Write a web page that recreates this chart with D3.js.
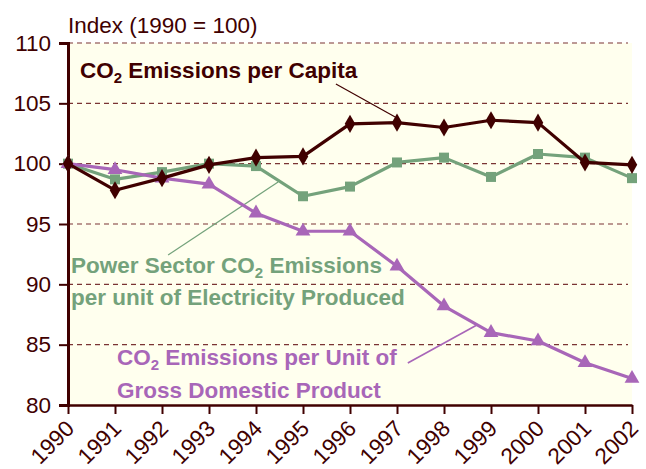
<!DOCTYPE html>
<html>
<head>
<meta charset="utf-8">
<script src="https://cdn.jsdelivr.net/npm/d3@7"></script>
<style>
  body { margin: 0; background: #fff; }
  svg { display: block; font-family: "Liberation Sans", Arial, sans-serif; }
</style>
</head>
<body>
<svg id="chart"></svg>
<script>
const years = [1990, 1991, 1992, 1993, 1994, 1995, 1996, 1997, 1998, 1999, 2000, 2001, 2002];
const perCapita = [100, 97.8, 98.8, 99.9, 100.5, 100.6, 103.3, 103.4, 103.0, 103.6, 103.4, 100.1, 99.9];
const powerSector = [100, 98.7, 99.3, 100.0, 99.8, 97.3, 98.1, 100.1, 100.5, 98.9, 100.8, 100.5, 98.8];
const perGdp = [100, 99.5, 98.8, 98.3, 95.9, 94.4, 94.4, 91.5, 88.2, 86.0, 85.3, 83.5, 82.2];
const yTicks = [80, 85, 90, 95, 100, 105, 110];

const width = 646;
const height = 469;
const marginTop = 43;
const marginRight = 14;
const marginBottom = 64;
const marginLeft = 68;

const dark = "#400000";
const green = "#74a27b";
const purple = "#a866b8";
const fs = 22.5;

const svg = d3.select('#chart')
    .attr('width', width)
    .attr('height', height)
    .attr('viewBox', `0 0 ${width} ${height}`);

const x = d3.scaleLinear()
    .domain([1990, 2002])
    .range([marginLeft, width - marginRight]);

const y = d3.scaleLinear()
    .domain([80, 110])
    .range([height - marginBottom, marginTop]);

// plot background
svg.append("rect")
    .attr("x", x(1990))
    .attr("y", y(110))
    .attr("width", x(2002) - x(1990))
    .attr("height", y(80) - y(110))
    .attr("fill", "#ffffee");

// dashed grid lines
svg.append("g")
    .selectAll("line")
    .data(yTicks.filter(d => d > 80))
    .join("line")
    .attr("x1", x(1990))
    .attr("x2", x(2002) - 4)
    .attr("y1", d => y(d))
    .attr("y2", d => y(d))
    .attr("stroke", "#7a3434")
    .attr("stroke-width", 1.2)
    .attr("stroke-dasharray", "5,4");

// y axis
svg.append("g")
    .attr("transform", `translate(${marginLeft},0)`)
    .call(d3.axisLeft(y).tickValues(yTicks).tickSize(9).tickPadding(8))
    .call(g => g.select(".domain").attr("stroke", dark).attr("stroke-width", 3))
    .call(g => g.selectAll(".tick line").attr("stroke", dark).attr("stroke-width", 2))
    .call(g => g.selectAll(".tick text")
        .attr("fill", dark)
        .attr("font-size", fs)
        .attr("font-family", "Liberation Sans, Arial, sans-serif"));

// x axis
svg.append("g")
    .attr("transform", `translate(0,${height - marginBottom})`)
    .call(d3.axisBottom(x).tickValues(years).tickFormat(d3.format("d")).tickSize(9).tickSizeOuter(0))
    .call(g => g.select(".domain").attr("stroke", dark).attr("stroke-width", 2.5))
    .call(g => g.selectAll(".tick line").attr("stroke", dark).attr("stroke-width", 2))
    .call(g => g.selectAll(".tick text")
        .attr("fill", dark)
        .attr("font-size", fs)
        .attr("font-family", "Liberation Sans, Arial, sans-serif")
        .attr("text-anchor", "end")
        .attr("dy", null)
        .attr("y", 0)
        .attr("transform", "translate(7,25) rotate(-45)"));

// y axis title
svg.append("text")
    .attr("x", marginLeft)
    .attr("y", 33)
    .attr("fill", dark)
    .attr("font-size", fs)
    .text("Index (1990 = 100)");

const line = d3.line()
    .x((d, i) => x(years[i]))
    .y(d => y(d));

const series = [
    {values: powerSector, color: green, symbol: d3.symbolSquare, size: 100},
    {values: perGdp, color: purple, symbol: d3.symbolTriangle, size: 95},
    {values: perCapita, color: dark, symbol: d3.symbolDiamond, size: 95}
];

// callout leader lines
const leaders = [
    {x1: x(1992.13), y1: y(92.43), x2: x(1994.47), y2: y(98.48), color: green, w: 1.2},
    {x1: x(1997.23), y1: y(83.48), x2: x(1998.7), y2: y(86.63), color: purple, w: 1.6},
    {x1: x(1995.7), y1: y(106.6), x2: x(1997.0), y2: y(103.78), color: dark, w: 1.2}
];
svg.append("g")
    .selectAll("line")
    .data(leaders)
    .join("line")
    .attr("x1", d => d.x1)
    .attr("y1", d => d.y1)
    .attr("x2", d => d.x2)
    .attr("y2", d => d.y2)
    .attr("stroke", d => d.color)
    .attr("stroke-width", d => d.w);

series.forEach(s => {
    svg.append("path")
        .datum(s.values)
        .attr("fill", "none")
        .attr("stroke", s.color)
        .attr("stroke-width", 3.2)
        .attr("stroke-linejoin", "round")
        .attr("d", line);

    svg.append("g")
        .selectAll("path")
        .data(s.values)
        .join("path")
        .attr("transform", (d, i) => `translate(${x(years[i])},${y(d)})`)
        .attr("fill", s.color)
        .attr("d", d3.symbol(s.symbol, s.size));
});

// series labels
function label(lines, px, py, color, lh) {
    const t = svg.append("text")
        .attr("fill", color)
        .attr("font-size", fs)
        .attr("font-weight", "bold");
    lines.forEach((parts, k) => {
        parts.forEach((p, j) => {
            const ts = t.append("tspan").text(p.t);
            if (j === 0) ts.attr("x", px).attr("y", py + k * lh);
            if (p.sub) ts.attr("font-size", 15).attr("dy", 5);
            else if (j > 0 && parts[j - 1].sub) ts.attr("dy", -5);
        });
    });
}

label([[{t: "CO"}, {t: "2", sub: true}, {t: " Emissions per Capita"}]], 80, 78, dark, 0);
label([
    [{t: "Power Sector CO"}, {t: "2", sub: true}, {t: " Emissions"}],
    [{t: "per unit of Electricity Produced"}]
], 71, 273, green, 32);
label([
    [{t: "CO"}, {t: "2", sub: true}, {t: " Emissions per Unit of"}],
    [{t: "Gross Domestic Product"}]
], 117, 365, purple, 33);
</script>
</body>
</html>
